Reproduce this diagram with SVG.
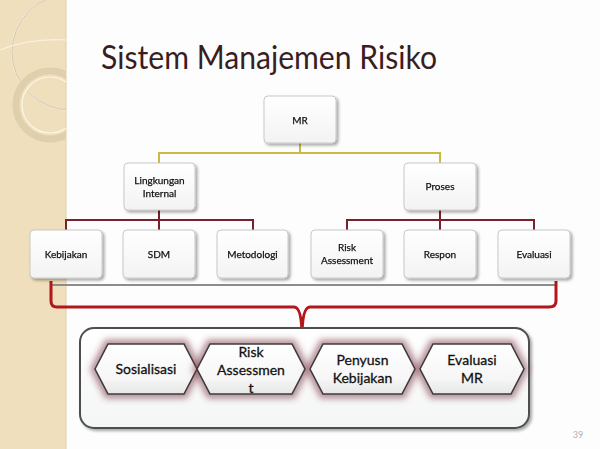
<svg xmlns="http://www.w3.org/2000/svg" width="600" height="449" viewBox="0 0 600 449">
<defs>
<style>
.box{fill:url(#boxg);stroke:#c8c8c8;stroke-width:1}
.bt{font-family:Lato,"Liberation Sans",sans-serif;font-size:10px;fill:#111;stroke:#111;stroke-width:0.25;text-anchor:middle}
.ht{font-family:Lato,"Liberation Sans",sans-serif;font-size:14px;fill:#111;stroke:#111;stroke-width:0.3;text-anchor:middle}
.hex{fill:url(#hexg);stroke:#3c3c3c;stroke-width:1.6}
.glow{fill:none;stroke:#7a3444;stroke-width:9;stroke-opacity:0.55}
.yl{fill:none;stroke:#cdb945;stroke-width:2}
.rl{fill:none;stroke:#7a1f2c;stroke-width:2}
</style>
<linearGradient id="boxg" x1="0" y1="0" x2="0" y2="1">
<stop offset="0" stop-color="#ffffff"/><stop offset="1" stop-color="#f3f3f3"/>
</linearGradient>
<linearGradient id="hexg" x1="0" y1="0" x2="0" y2="1">
<stop offset="0" stop-color="#ffffff"/><stop offset="0.7" stop-color="#f6f6f6"/><stop offset="1" stop-color="#e6e6e6"/>
</linearGradient>
<linearGradient id="cg" x1="0" y1="0" x2="0" y2="1">
<stop offset="0" stop-color="#ffffff"/><stop offset="1" stop-color="#f4f5f5"/>
</linearGradient>
<filter id="sh" x="-20%" y="-20%" width="150%" height="150%">
<feGaussianBlur in="SourceAlpha" stdDeviation="1.5"/>
<feOffset dx="1.5" dy="2" result="b"/>
<feComponentTransfer><feFuncA type="linear" slope="0.35"/></feComponentTransfer>
<feMerge><feMergeNode/><feMergeNode in="SourceGraphic"/></feMerge>
</filter>
<filter id="blur" x="-20%" y="-30%" width="140%" height="160%"><feGaussianBlur stdDeviation="3"/></filter>
<clipPath id="strip"><rect x="0" y="0" width="66" height="449"/></clipPath>
</defs>

<rect x="0" y="0" width="600" height="449" fill="#fdfdfd"/>
<g id="strip-bg">
<rect x="0" y="0" width="66" height="449" fill="#efdfbd"/>
<line x1="66" y1="0" x2="66" y2="449" stroke="#e2cfa8" stroke-width="1"/>
<g clip-path="url(#strip)" fill="none">
<circle cx="70" cy="52" r="58" stroke="#f8f0e0" stroke-width="1.5"/>
<circle cx="70" cy="52" r="58" stroke="#b9a98a" stroke-width="0.6"/>
<circle cx="50" cy="105" r="34" stroke="#e0cfac" stroke-width="7"/>
<circle cx="50" cy="105" r="28" stroke="#fbf5ea" stroke-width="1.2"/>
<path d="M0,50 Q30,38 66,40" stroke="#f8f0e0" stroke-width="1.2"/>
</g>
</g>

<text id="title" x="101" y="69" font-family="Lato,'Liberation Sans',sans-serif" font-size="33" fill="#3a1d1e" textLength="336" lengthAdjust="spacingAndGlyphs">Sistem Manajemen Risiko</text>

<g id="connectors">
<path class="yl" d="M300,143 V153 M159,163 V153 H440 V163"/>
<path class="rl" d="M159,210 V230 M66,230 V220 H253 V230 M159,220 V230"/>
<path class="rl" d="M440,210 V230 M347,230 V220 H534 V230"/>
<line x1="52" y1="285" x2="556" y2="285" stroke="#8c8c8c" stroke-width="2"/>
<path d="M51,281 V301 Q51,307 57,307 H294 Q302,307 302,338 Q302,307 310,307 H549 Q556,307 556,301 V281" fill="none" stroke="#b3161c" stroke-width="3"/>
</g>

<g id="n-mr" filter="url(#sh)"><rect class="box" x="264" y="96" width="72" height="47" rx="4"/><text class="bt" x="300" y="124">MR</text></g>
<g id="n-lingkungan" filter="url(#sh)"><rect class="box" x="124" y="163" width="71" height="47" rx="4"/><text class="bt" x="159.5" y="184">Lingkungan</text><text class="bt" x="159.5" y="197">Internal</text></g>
<g id="n-proses" filter="url(#sh)"><rect class="box" x="404" y="163" width="72" height="47" rx="4"/><text class="bt" x="440" y="190">Proses</text></g>
<g id="n-kebijakan" filter="url(#sh)"><rect class="box" x="30" y="230" width="72" height="48" rx="4"/><text class="bt" x="66" y="258">Kebijakan</text></g>
<g id="n-sdm" filter="url(#sh)"><rect class="box" x="123" y="230" width="72" height="48" rx="4"/><text class="bt" x="159" y="258">SDM</text></g>
<g id="n-metodologi" filter="url(#sh)"><rect class="box" x="217" y="230" width="71" height="48" rx="4"/><text class="bt" x="252.5" y="258">Metodologi</text></g>
<g id="n-risk" filter="url(#sh)"><rect class="box" x="311" y="230" width="72" height="48" rx="4"/><text class="bt" x="347" y="251">Risk</text><text class="bt" x="347" y="264">Assessment</text></g>
<g id="n-respon" filter="url(#sh)"><rect class="box" x="404" y="230" width="72" height="48" rx="4"/><text class="bt" x="440" y="258">Respon</text></g>
<g id="n-evaluasi" filter="url(#sh)"><rect class="box" x="498" y="230" width="72" height="48" rx="4"/><text class="bt" x="534" y="258">Evaluasi</text></g>

<g id="container">
<rect x="80" y="328" width="449" height="100" rx="14" fill="url(#cg)" stroke="#4d4f50" stroke-width="2" filter="url(#sh)"/>
</g>

<g id="h-sosialisasi">
<polygon class="glow" filter="url(#blur)" points="95,369 108,344 184,344 197,369 184,394 108,394"/>
<polygon class="hex" points="95,369 108,344 184,344 197,369 184,394 108,394"/>
<text class="ht" x="146" y="374">Sosialisasi</text>
</g>
<g id="h-risk">
<polygon class="glow" filter="url(#blur)" points="197,369 210,344 292,344 305,369 292,394 210,394"/>
<polygon class="hex" points="197,369 210,344 292,344 305,369 292,394 210,394"/>
<text class="ht" x="251" y="357">Risk</text>
<text class="ht" x="251" y="375">Assessmen</text>
<text class="ht" x="251" y="393">t</text>
</g>
<g id="h-penyusn">
<polygon class="glow" filter="url(#blur)" points="310,369 323,344 402,344 415,369 402,394 323,394"/>
<polygon class="hex" points="310,369 323,344 402,344 415,369 402,394 323,394"/>
<text class="ht" x="362.5" y="365">Penyusn</text>
<text class="ht" x="362.5" y="383">Kebijakan</text>
</g>
<g id="h-evaluasi-mr">
<polygon class="glow" filter="url(#blur)" points="420,369 433,344 511,344 524,369 511,394 433,394"/>
<polygon class="hex" points="420,369 433,344 511,344 524,369 511,394 433,394"/>
<text class="ht" x="472" y="365">Evaluasi</text>
<text class="ht" x="472" y="383">MR</text>
</g>

<text x="578" y="438" font-family="Lato,'Liberation Sans',sans-serif" font-size="9" fill="#b0b0b0" text-anchor="middle">39</text>
</svg>
